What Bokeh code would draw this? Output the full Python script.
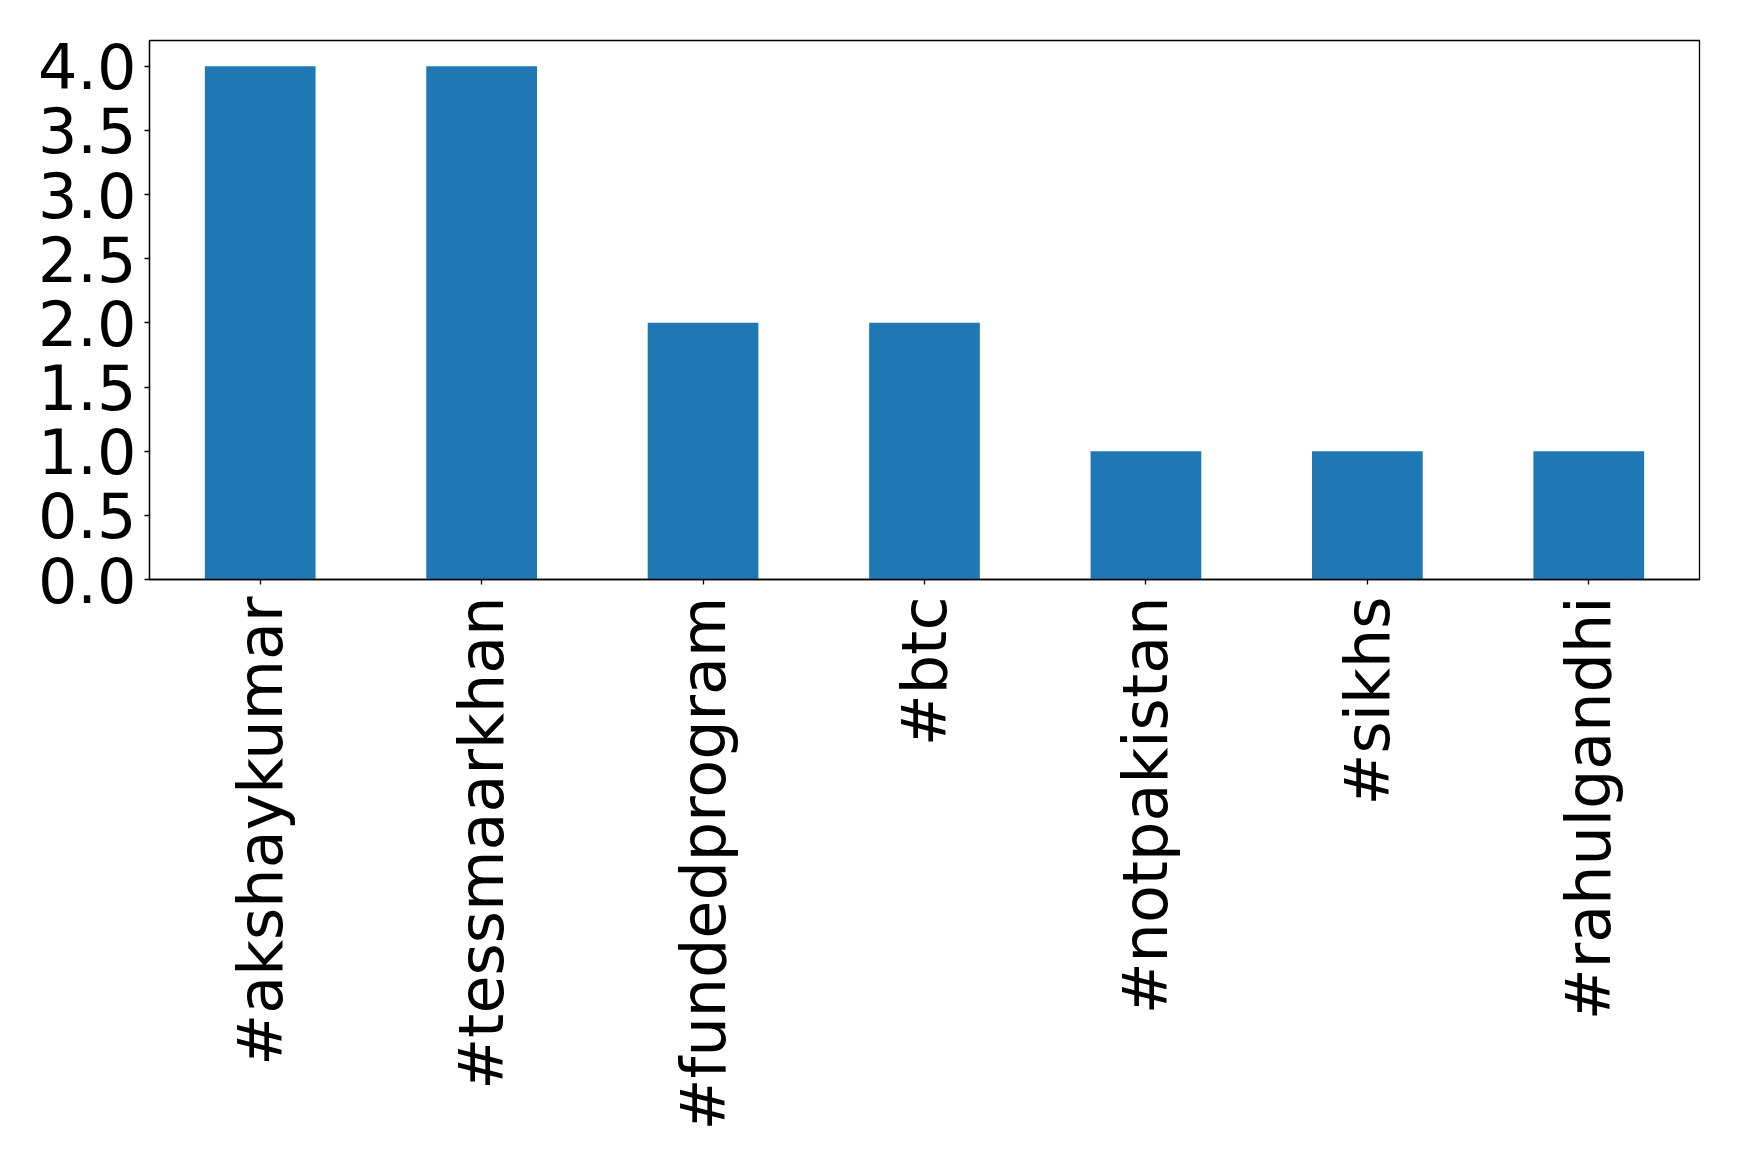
import math
from bokeh.plotting import figure
from bokeh.models import ColumnDataSource, FixedTicker, PrintfTickFormatter, Range1d
from bokeh.embed import file_html
from bokeh.resources import INLINE

categories = ["#akshaykumar", "#tessmaarkhan", "#fundedprogram", "#btc",
              "#notpakistan", "#sikhs", "#rahulgandhi"]
counts = [4, 4, 2, 2, 1, 1, 1]
y_ticks = [0.0, 0.5, 1.0, 1.5, 2.0, 2.5, 3.0, 3.5, 4.0]

src = ColumnDataSource(data=dict(cat=categories, val=counts))

FONT = "DejaVu Sans"
p = figure(x_range=categories, y_range=Range1d(0, 4.2),
           width=1731, height=1139, output_backend="svg", toolbar_location=None,
           min_border_left=149, min_border_top=40, min_border_right=32,
           min_border_bottom=560)
p.vbar(x="cat", top="val", width=0.5, source=src, color="#1f77b4", line_color=None)
p.x_range.range_padding = 0
p.xgrid.visible = False
p.ygrid.visible = False
p.outline_line_color = "black"
p.outline_line_width = 1.3
p.background_fill_color = "white"
p.border_fill_color = "white"

for ax in (p.xaxis[0], p.yaxis[0]):
    ax.axis_line_color = "black"
    ax.axis_line_width = 1.3
    ax.major_tick_line_color = "black"
    ax.major_tick_line_width = 1.3
    ax.major_tick_out = 5
    ax.major_tick_in = 0
    ax.minor_tick_line_color = None
    ax.major_label_text_font = FONT
    ax.major_label_text_font_size = "62px"
    ax.major_label_text_color = "black"

p.yaxis.ticker = FixedTicker(ticks=y_ticks)
p.yaxis.formatter = PrintfTickFormatter(format="%.1f")
p.yaxis.major_label_standoff = 8
p.xaxis.major_label_orientation = math.pi / 2
p.xaxis.major_label_standoff = 12

open("out.html", "w").write(file_html(p, INLINE))
